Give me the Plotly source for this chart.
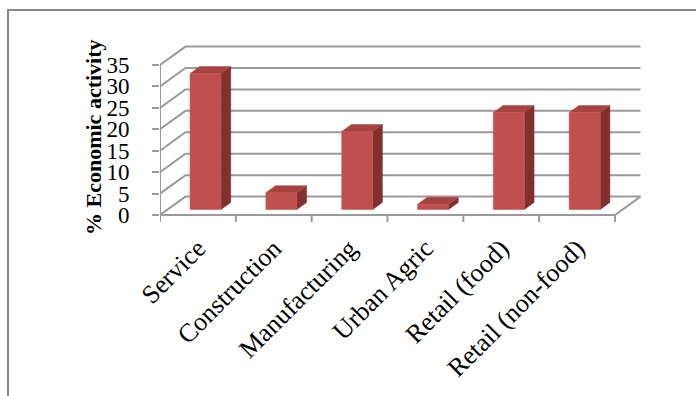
import plotly.graph_objects as go

# Share of economic activity by sector (%)
categories = ["Service", "Construction", "Manufacturing", "Urban Agric",
              "Retail (food)", "Retail (non-food)"]
values = [31.7, 3.9, 18.2, 1.2, 22.6, 22.6]
y_ticks = [0, 5, 10, 15, 20, 25, 30, 35]

# Oblique 3-D projection parameters (in data units)
DX = 0.336      # horizontal shift of the back wall, category units
DY = 4.3        # vertical shift of the back wall, value units
D1, D2 = 0.30, 0.68   # bar depth span (fraction of floor depth)
HALF_W = 0.2045       # half bar width, category units
Y_MAX = 35
N = len(categories)

FRONT = "#c0504d"
TOP = "#a6423f"
SIDE = "#82302e"
GRID = "#9a9a9a"
SERIF = "Liberation Serif, Times New Roman, serif"


def proj(x, v, d):
    return x + d * DX, v + d * DY


fig = go.Figure()

# back wall gridlines, side wall diagonals, floor outline
gx, gy = [], []
for v in y_ticks:
    x0, y0 = proj(0, v, 1)
    x1, y1 = proj(N, v, 1)
    gx += [0, x0, x1, None]
    gy += [v, y0, y1, None]
fx, fy = proj(N, 0, 1)
gx += [0, N, fx, None]
gy += [0, 0, fy, None]
# front value axis
gx += [0, 0, None]
gy += [0, Y_MAX, None]
# category boundary tick marks
tick_len = 7 / (150 / 35)
for k in range(N + 1):
    gx += [k, k, None]
    gy += [0, -tick_len, None]
fig.add_trace(go.Scatter(x=gx, y=gy, mode="lines",
                         line=dict(color=GRID, width=2),
                         hoverinfo="skip", showlegend=False))

# bar faces
faces = {"front": ([], []), "top": ([], []), "side": ([], [])}
for i, val in enumerate(values):
    c = i + 0.5
    xl, xr = c - HALF_W, c + HALF_W
    pts = {
        "front": [(xl, 0, D1), (xr, 0, D1), (xr, val, D1), (xl, val, D1)],
        "top": [(xl, val, D1), (xr, val, D1), (xr, val, D2), (xl, val, D2)],
        "side": [(xr, 0, D1), (xr, 0, D2), (xr, val, D2), (xr, val, D1)],
    }
    for name, poly in pts.items():
        xs, ys = faces[name]
        for p in poly + [poly[0]]:
            px, py = proj(*p)
            xs.append(px)
            ys.append(py)
        xs.append(None)
        ys.append(None)

for name, color in (("side", SIDE), ("top", TOP), ("front", FRONT)):
    xs, ys = faces[name]
    fig.add_trace(go.Scatter(x=xs, y=ys, mode="lines", fill="toself",
                             fillcolor=color, line=dict(color=color, width=0.5),
                             hoverinfo="skip", showlegend=False))

# plot-area geometry (pixels)
L, R, T, B = 160, 10, 20, 171
W, H = 696 - L - R, 396 - T - B
px_per_cat = 75.83
px_per_val = 150 / 35
x_range = [0, W / px_per_cat]
y_range = [-(H - 195) / px_per_val, 195 / px_per_val]

fig.update_layout(
    width=696, height=396,
    margin=dict(l=L, r=R, t=T, b=B),
    paper_bgcolor="white", plot_bgcolor="white",
    xaxis=dict(range=x_range, tickvals=[i + 0.5 for i in range(N)],
               ticktext=categories, tickangle=-45, ticks="",
               showgrid=False, zeroline=False, showline=False,
               tickfont=dict(family=SERIF, size=26, color="black"),
               ticklabelstandoff=2, fixedrange=True),
    yaxis=dict(range=y_range, tickvals=y_ticks, ticks="outside", ticklen=7,
               tickcolor=GRID, tickwidth=2,
               showgrid=False, zeroline=False, showline=False,
               tickfont=dict(family=SERIF, size=23, color="black"),
               ticklabelstandoff=18, fixedrange=True),
    annotations=[dict(text="<b>% Economic activity</b>", textangle=-90,
                      xref="paper", yref="paper",
                      x=(93 - L) / W, y=(396 - B - 137) / H,
                      xanchor="center", yanchor="middle", showarrow=False,
                      font=dict(family=SERIF, size=22, color="black"))],
    shapes=[dict(type="rect", xref="paper", yref="paper",
                 x0=(8 - L) / W, x1=(710 - L) / W,
                 y0=(396 - B - 410) / H, y1=(396 - B - 10) / H,
                 line=dict(color="#8a8a8a", width=2))],
)

fig.write_html("out.html")
